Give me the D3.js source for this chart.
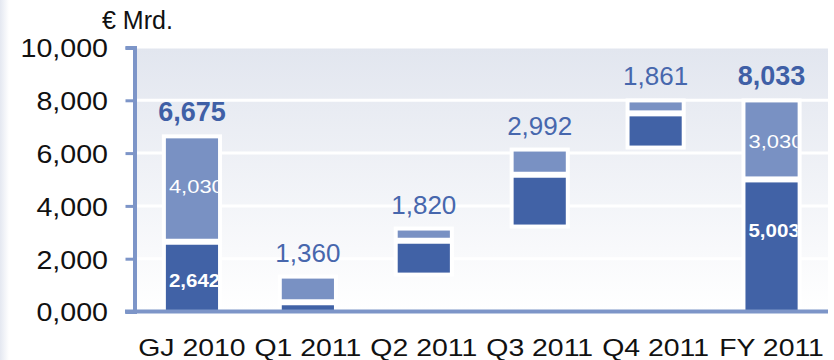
<!DOCTYPE html>
<html>
<head>
<meta charset="utf-8">
<script src="https://cdn.jsdelivr.net/npm/d3@7"></script>
<style>
  html, body { margin: 0; padding: 0; background: #fff; }
  svg { display: block; font-family: "Liberation Sans", Arial, sans-serif; }
</style>
</head>
<body>
<div id="chart"></div>
<script>
// data (EUR bn)
var categories = ["GJ 2010", "Q1 2011", "Q2 2011", "Q3 2011", "Q4 2011", "FY 2011"];
var darkValues = [2642, 350, 1320, 2000, 1333, 5003];
var lightValues = [4030, 1010, 500, 992, 528, 3030];
var totalLabels = ["6,675", "1,360", "1,820", "2,992", "1,861", "8,033"];
var isTotal = [true, false, false, false, false, true];
var darkLabels = ["2,642", "", "", "", "", "5,003"];
var lightLabels = ["4,030", "", "", "", "", "3,030"];
var yTicks = [0, 2000, 4000, 6000, 8000, 10000];
var yTickLabels = ["0,000", "2,000", "4,000", "6,000", "8,000", "10,000"];
var unitLabel = "€ Mrd.";

var W = 834, H = 360;
var darkCol = "#4162a6", lightCol = "#7991c3", axisCol = "#7d95c8", labelCol = "#4767ad";
var fontFam = "Liberation Sans, Arial, sans-serif";

var svg = d3.select("#chart").append("svg").attr("width", W).attr("height", H);
var defs = svg.append("defs");

var bgGrad = defs.append("linearGradient").attr("id", "bgGrad")
  .attr("x1", 0).attr("y1", 0).attr("x2", 0).attr("y2", 1);
bgGrad.append("stop").attr("offset", "0%").attr("stop-color", "#e2e6ef");
bgGrad.append("stop").attr("offset", "100%").attr("stop-color", "#ffffff");

var sideGrad = defs.append("linearGradient").attr("id", "sideGrad")
  .attr("x1", 0).attr("y1", 0).attr("x2", 1).attr("y2", 0);
sideGrad.append("stop").attr("offset", "0%").attr("stop-color", "#e4e8f1");
sideGrad.append("stop").attr("offset", "100%").attr("stop-color", "#ffffff");

// scales
var x = d3.scaleBand().domain(categories).range([134, 829.5])
  .paddingInner(0.55).paddingOuter(0.275);
var y = d3.scaleLinear().domain([0, 10000]).range([311.5, 47.5]);

// faint strip at left edge
svg.append("rect").attr("x", 0).attr("y", 0).attr("width", 9).attr("height", H)
  .attr("fill", "url(#sideGrad)");

// plot background + white grid
svg.append("rect").attr("x", 136.5).attr("y", y(10000) + 1)
  .attr("width", 828 - 136.5).attr("height", y(0) - y(10000) - 1)
  .attr("fill", "url(#bgGrad)");
svg.append("g").selectAll("line").data(yTicks.slice(1, -1)).enter().append("line")
  .attr("x1", 136.5).attr("x2", 828)
  .attr("y1", function(d) { return y(d); }).attr("y2", function(d) { return y(d); })
  .attr("stroke", "#fff").attr("stroke-width", 3);

// bar bases: quarters stack up, totals start at 0
var bars = [];
var running = 0;
categories.forEach(function(c, i) {
  var base = isTotal[i] ? 0 : running;
  var top = base + darkValues[i] + lightValues[i];
  if (!isTotal[i]) running = top;
  bars.push({cat: c, i: i, base: base, mid: base + darkValues[i], top: top});
});

var inset = 3;
var bw = x.bandwidth();
var barG = svg.append("g");

bars.forEach(function(b) {
  var x0 = x(b.cat);
  var yBase = y(b.base) - (b.base > 0 ? inset : 0);
  var yMid = y(b.mid);
  var yTop = y(b.top) + inset;

  // white halo
  barG.append("rect").attr("x", x0 - 4).attr("y", yTop - 4)
    .attr("width", bw + 8).attr("height", yBase - yTop + 8).attr("fill", "#fff");

  var darkR = {y: yMid + inset, h: yBase - yMid - inset};
  var lightR = {y: yTop, h: yMid - inset - yTop};
  barG.append("rect").attr("x", x0).attr("y", darkR.y)
    .attr("width", bw).attr("height", darkR.h).attr("fill", darkCol);
  barG.append("rect").attr("x", x0).attr("y", lightR.y)
    .attr("width", bw).attr("height", lightR.h).attr("fill", lightCol);

  // inner labels, clipped to the bar
  var clipId = "clip" + b.i;
  defs.append("clipPath").attr("id", clipId).append("rect")
    .attr("x", x0).attr("y", 0).attr("width", bw).attr("height", H);
  var cg = barG.append("g").attr("clip-path", "url(#" + clipId + ")");
  [[lightLabels[b.i], lightR, "normal", 18, 1.22],
   [darkLabels[b.i], darkR, "bold", 19, 1.08]].forEach(function(l) {
    if (!l[0]) return;
    var by = Math.min(l[1].y + l[1].h / 2 + 9, l[1].y + 55);
    cg.append("text")
      .attr("transform", "translate(" + (x0 + 3) + "," + by + ") scale(" + l[4] + ",1)")
      .attr("fill", "#fff").attr("font-weight", l[2])
      .style("font-size", l[3] + "px")
      .text(l[0]);
  });

  // value label above
  barG.append("text")
    .attr("x", x0 + bw / 2).attr("y", y(b.top) - 14)
    .attr("text-anchor", "middle")
    .attr("fill", isTotal[b.i] ? "#3f5fa6" : labelCol)
    .attr("font-weight", isTotal[b.i] ? "bold" : "normal")
    .style("font-size", isTotal[b.i] ? "27px" : "26px")
    .text(totalLabels[b.i]);
});

// y axis
var yAxis = d3.axisLeft(y).tickValues(yTicks)
  .tickFormat(function(d, i) { return yTickLabels[i]; })
  .tickSize(9).tickSizeOuter(9).tickPadding(17);
var ya = svg.append("g").attr("transform", "translate(134.5,0)").call(yAxis);
ya.select(".domain").attr("stroke", axisCol).attr("stroke-width", 4).attr("fill", "none");
ya.selectAll(".tick line").attr("stroke", axisCol).attr("stroke-width", 3);
ya.selectAll(".tick text")
  .attr("x", 0).attr("dy", "0.36em")
  .attr("transform", "translate(-26.5,0) scale(1.1,1)")
  .attr("fill", "#111")
  .style("font-family", fontFam).style("font-size", "26px");

// x axis
svg.append("line").attr("x1", 125).attr("x2", 828)
  .attr("y1", y(0)).attr("y2", y(0))
  .attr("stroke", axisCol).attr("stroke-width", 4);
var xa = svg.append("g").attr("transform", "translate(0," + y(0) + ")")
  .call(d3.axisBottom(x).tickSize(0));
xa.select(".domain").remove();
xa.selectAll(".tick text")
  .attr("y", 0).attr("dy", 0)
  .attr("transform", "translate(0,44) scale(1.16,1)")
  .attr("fill", "#111")
  .style("font-family", fontFam).style("font-size", "24.5px");

// unit
svg.append("text").attr("x", 102).attr("y", 29)
  .attr("fill", "#111").style("font-size", "25px").text(unitLabel);
</script>
</body>
</html>
